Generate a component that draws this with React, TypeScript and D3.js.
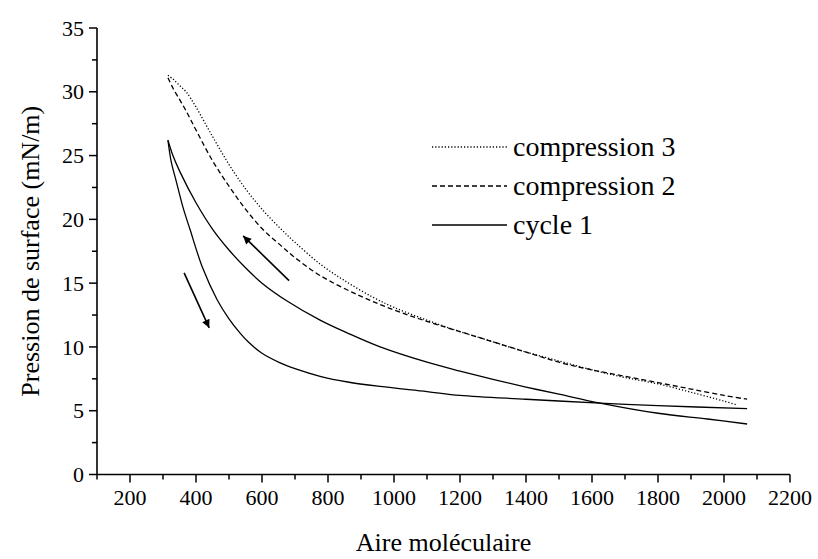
import React from "react";
import * as d3 from "d3";

// ---- data ----
const comp3X = [315, 330, 350, 370, 400, 450, 500, 550, 600, 655, 700, 776, 850, 936, 1000, 1100, 1200, 1300, 1400, 1500, 1600, 1700, 1800, 1900, 2000, 2040];
const comp3Y = [31.3, 31.0, 30.5, 30.0, 28.8, 26.5, 24.3, 22.4, 20.8, 19.3, 18.2, 16.5, 15.2, 13.9, 13.1, 12.1, 11.2, 10.4, 9.6, 8.9, 8.2, 7.6, 7.1, 6.45, 5.75, 5.45];

const comp2X = [315, 330, 350, 370, 400, 450, 500, 550, 603, 655, 700, 776, 897, 1000, 1100, 1200, 1300, 1400, 1500, 1600, 1700, 1800, 1900, 2000, 2070];
const comp2Y = [31.1, 30.3, 29.4, 28.5, 27.0, 24.6, 22.6, 20.8, 19.2, 18.0, 17.0, 15.6, 14.0, 12.9, 12.0, 11.2, 10.4, 9.6, 8.8, 8.2, 7.7, 7.2, 6.7, 6.2, 5.9];

const cycle1CompX = [315, 330, 350, 400, 451, 500, 550, 600, 676, 776, 858, 958, 1100, 1200, 1300, 1400, 1500, 1624, 1800, 1950, 2070];
const cycle1CompY = [26.2, 25.0, 23.8, 21.3, 19.2, 17.6, 16.2, 15.0, 13.6, 12.1, 11.1, 10.0, 8.8, 8.1, 7.45, 6.85, 6.3, 5.6, 4.8, 4.35, 3.96];

const cycle1ExpX = [315, 325, 340, 360, 382, 420, 464, 500, 533, 558, 600, 655, 700, 776, 860, 958, 1100, 1200, 1400, 1624, 1800, 2070];
const cycle1ExpY = [26.2, 24.5, 23.0, 21.0, 19.2, 16.2, 13.7, 12.2, 11.1, 10.4, 9.5, 8.75, 8.3, 7.7, 7.25, 6.9, 6.5, 6.2, 5.9, 5.6, 5.4, 5.16];

const xMajorTicks = [200, 400, 600, 800, 1000, 1200, 1400, 1600, 1800, 2000, 2200];
const xMinorTicks = [100, 300, 500, 700, 900, 1100, 1300, 1500, 1700, 1900, 2100];
const yMajorTicks = [0, 5, 10, 15, 20, 25, 30, 35];
const yMinorTicks = [2.5, 7.5, 12.5, 17.5, 22.5, 27.5, 32.5];

const legendLabels = ["compression 3", "compression 2", "cycle 1"];

// arrows in data coordinates: [x1, y1, x2, y2]
const arrowUp = [682, 15.2, 543, 18.7];
const arrowDown = [364, 15.8, 440, 11.5];

const xTitle = "Aire moléculaire";
const yTitle = "Pression de surface (mN/m)";

const W = 818;
const H = 559;
const FONT = "Liberation Serif, Times New Roman, DejaVu Serif, serif";

export default function App() {
  const x = d3.scaleLinear().domain([100, 2200]).range([97, 790]);
  const y = d3.scaleLinear().domain([0, 35]).range([474.5, 28]);

  const line = d3
    .line<[number, number]>()
    .x((d) => x(d[0]))
    .y((d) => y(d[1]))
    .curve(d3.curveCatmullRom.alpha(0.5));

  const zip = (a: number[], b: number[]) => a.map((v, i) => [v, b[i]] as [number, number]);

  const series = [
    { d: line(zip(comp3X, comp3Y)), dash: "1.2 2" },
    { d: line(zip(comp2X, comp2Y)), dash: "5 3" },
    { d: line(zip(cycle1CompX, cycle1CompY)), dash: "" },
    { d: line(zip(cycle1ExpX, cycle1ExpY)), dash: "" },
  ];

  const legendDash = ["1.2 2", "5 3", ""];
  const legendY = [147, 186, 225];

  const x0 = x.range()[0];
  const y0 = y.range()[0];
  const ts = { fontFamily: FONT };

  return (
    <svg
      width={W}
      height={H}
      style={{ position: "absolute", left: 0, top: 0, background: "#fff", fontFamily: FONT }}
    >
      <defs>
        <marker id="ah" viewBox="0 0 10 10" refX="10" refY="5" markerWidth="11" markerHeight="8" markerUnits="userSpaceOnUse" orient="auto">
          <path d="M0,0 L10,5 L0,10 z" fill="#000" />
        </marker>
      </defs>
      <rect x={0} y={0} width={W} height={H} fill="#fff" />

      {/* axes */}
      <line x1={x0} x2={x0} y1={y(35)} y2={y0} stroke="#000" strokeWidth={1.6} />
      <line x1={x0} x2={x(2200)} y1={y0} y2={y0} stroke="#000" strokeWidth={1.6} />

      {xMajorTicks.map((t) => (
        <g key={"xM" + t}>
          <line x1={x(t)} x2={x(t)} y1={y0} y2={y0 + 8} stroke="#000" strokeWidth={1.5} />
          <text x={x(t)} y={y0 + 30} fontSize={22} textAnchor="middle" fill="#000" style={ts}>
            {t}
          </text>
        </g>
      ))}
      {xMinorTicks.map((t) => (
        <line key={"xm" + t} x1={x(t)} x2={x(t)} y1={y0} y2={y0 + 5} stroke="#000" strokeWidth={1.5} />
      ))}
      {yMajorTicks.map((t) => (
        <g key={"yM" + t}>
          <line x1={x0 - 8} x2={x0} y1={y(t)} y2={y(t)} stroke="#000" strokeWidth={1.5} />
          <text x={x0 - 13} y={y(t)} dy="0.35em" fontSize={22} textAnchor="end" fill="#000" style={ts}>
            {t}
          </text>
        </g>
      ))}
      {yMinorTicks.map((t) => (
        <line key={"ym" + t} x1={x0 - 5} x2={x0} y1={y(t)} y2={y(t)} stroke="#000" strokeWidth={1.5} />
      ))}

      {/* titles */}
      <text x={(x0 + x(2200)) / 2} y={551} fontSize={26} textAnchor="middle" fill="#000" style={ts}>
        {xTitle}
      </text>
      <text
        transform={`translate(30, ${(y(0) + y(35)) / 2}) rotate(-90)`}
        fontSize={26}
        textAnchor="middle"
        dy="0.35em"
        fill="#000"
        style={ts}
      >
        {yTitle}
      </text>

      {/* curves */}
      {series.map((s, i) => (
        <path key={i} d={s.d || ""} fill="none" stroke="#000" strokeWidth={1.3} strokeDasharray={s.dash || undefined} />
      ))}

      {/* arrows */}
      {[arrowUp, arrowDown].map((a, i) => (
        <line
          key={"ar" + i}
          x1={x(a[0])}
          y1={y(a[1])}
          x2={x(a[2])}
          y2={y(a[3])}
          stroke="#000"
          strokeWidth={1.6}
          markerEnd="url(#ah)"
        />
      ))}

      {/* legend */}
      {legendLabels.map((l, i) => (
        <g key={l}>
          <line x1={432} x2={507} y1={legendY[i]} y2={legendY[i]} stroke="#000" strokeWidth={1.3} strokeDasharray={legendDash[i] || undefined} />
          <text x={513} y={legendY[i] + 8.5} fontSize={28} fill="#000" style={ts}>
            {l}
          </text>
        </g>
      ))}
    </svg>
  );
}
